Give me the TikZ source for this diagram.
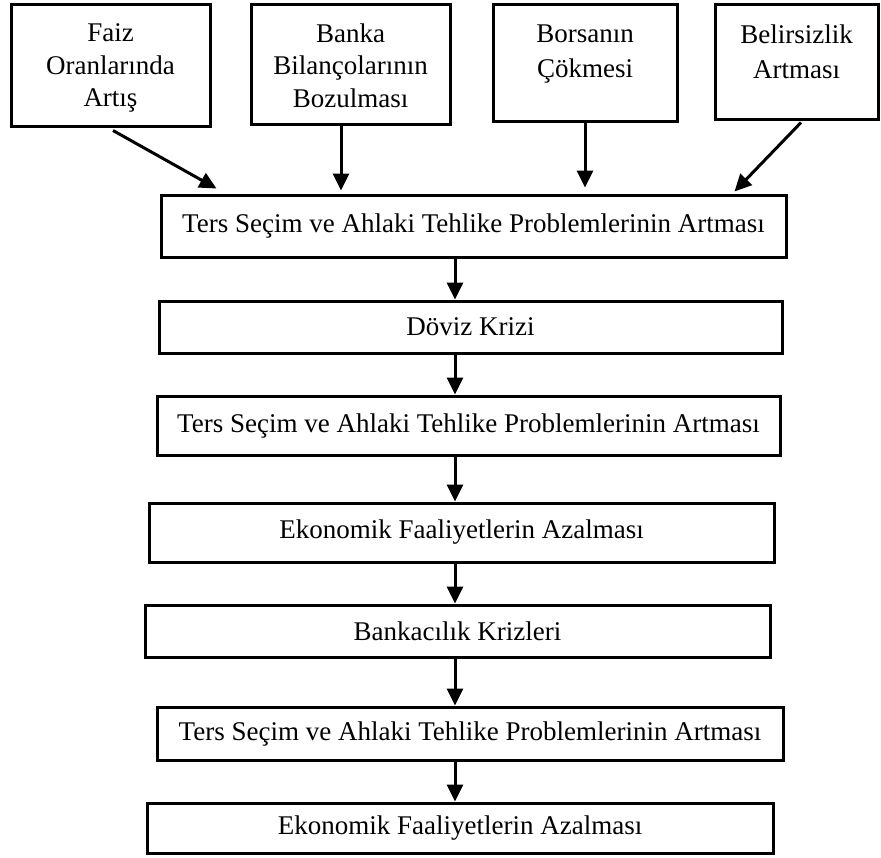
\documentclass[tikz,border=0pt]{standalone}
\usepackage{fontspec}
\setmainfont{Liberation Serif}
\usetikzlibrary{positioning,arrows.meta}

\begin{document}
\begin{tikzpicture}[
   x=1pt, y=-1pt,
   every node/.append style={font=\fontsize{27}{32.5}\selectfont, align=center},
   causebox/.style={draw, line width=3pt, inner sep=0pt},
   causetext/.style={inner sep=0pt},
   widetext/.style={font=\fontsize{27}{35}\selectfont},
   stagebox/.style={draw, line width=3pt, minimum width=625pt, inner sep=0pt},
   flow/.style={-{Triangle[length=17pt,width=16pt]}, line width=3pt}
]
\useasboundingbox (0,0) rectangle (881,857);

% causes
\node[causebox, minimum width=199pt, minimum height=122pt] (faiz) at (110.5,65) {};
\node[causebox, minimum width=199pt, minimum height=120pt] (banka) at (350.5,64) {};
\node[causebox, minimum width=184pt, minimum height=117pt] (borsa) at (585,62.5) {};
\node[causebox, minimum width=163pt, minimum height=115pt] (belirsiz) at (796.5,61.5) {};

\node[causetext, below=21pt of faiz.north] {Faiz\\Oranlarında\\Artış};
\node[causetext, below=21pt of banka.north] {Banka\\Bilançolarının\\Bozulması};
\node[causetext, widetext, below=22pt of borsa.north] {Borsanın\\Çökmesi};
\node[causetext, widetext, below=22pt of belirsiz.north] {Belirsizlik\\Artması};

% chain
\node[stagebox, minimum height=62pt] (ters1) at (473.5,226) {Ters Seçim ve Ahlaki Tehlike Problemlerinin Artması};
\node[stagebox, minimum width=623pt, minimum height=52pt] (doviz) at (470.5,327) {Döviz Krizi};
\node[stagebox, minimum width=623pt, minimum height=59pt] (ters2) at (468.5,425.5) {Ters Seçim ve Ahlaki Tehlike Problemlerinin Artması};
\node[stagebox, minimum height=59pt] (ekonomik1) at (461.5,532.5) {Ekonomik Faaliyetlerin Azalması};
\node[stagebox, minimum height=52pt] (bankacilik) at (457.5,631) {Bankacılık Krizleri};
\node[stagebox, minimum width=626pt, minimum height=53pt] (ters3) at (470,733.5) {Ters Seçim ve Ahlaki Tehlike Problemlerinin Artması};
\node[stagebox, minimum width=626pt, minimum height=50pt] (ekonomik2) at (460,828) {Ekonomik Faaliyetlerin Azalması};

\coordinate (axis) at (455,0);

% arrows
\draw[flow] ([xshift=2.5pt,yshift=-3pt]faiz.south) -- ([xshift=57pt,yshift=5pt]ters1.north west);
\draw[flow, shorten >=3pt] ([xshift=-9.5pt]banka.south) -- ([xshift=-9.5pt]banka.south |- ters1.north);
\draw[flow, shorten >=6pt] (borsa.south) -- (borsa.south |- ters1.north);
\draw[flow] ([xshift=4.5pt,yshift=-2pt]belirsiz.south) -- ([xshift=-53pt,yshift=2pt]ters1.north east);

\draw[flow] (ters1.south -| axis) -- (doviz.north -| axis);
\draw[flow] (doviz.south -| axis) -- (ters2.north -| axis);
\draw[flow] (ters2.south -| axis) -- (ekonomik1.north -| axis);
\draw[flow] (ekonomik1.south -| axis) -- (bankacilik.north -| axis);
\draw[flow] (bankacilik.south -| axis) -- (ters3.north -| axis);
\draw[flow] (ters3.south -| axis) -- (ekonomik2.north -| axis);
\end{tikzpicture}
\end{document}
